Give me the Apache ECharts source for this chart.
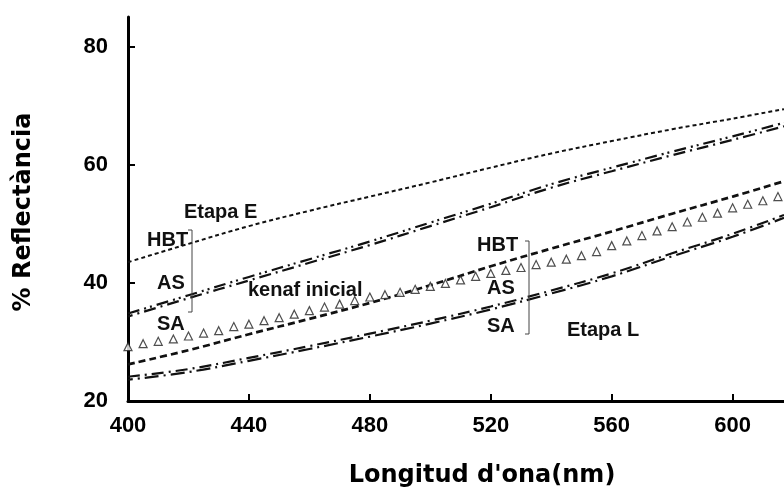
<!DOCTYPE html>
<html><head><meta charset="utf-8">
<script src="https://cdn.jsdelivr.net/npm/echarts@6/dist/echarts.min.js"></script>
<style>html,body{margin:0;padding:0;background:#fff}#c{width:784px;height:493px}</style>
</head><body><div id="c"></div>
<script>
// wavelengths (nm) for the smooth curves
const wavelengths = [400, 420, 440, 460, 480, 500, 520, 540, 560, 580, 600, 617];
const etapaE_HBT = [43.5, 46.6, 49.6, 52.2, 54.6, 57.0, 59.5, 61.9, 64.0, 66.0, 67.8, 69.4];
const etapaE_AS  = [34.8, 37.9, 41.0, 44.0, 47.0, 50.2, 53.4, 56.7, 59.5, 62.2, 64.8, 67.1];
const etapaE_SA  = [34.3, 37.4, 40.4, 43.4, 46.4, 49.6, 52.8, 56.1, 58.9, 61.6, 64.2, 66.5];
const etapaL_HBT = [26.2, 28.6, 31.3, 33.9, 36.6, 39.6, 42.8, 45.8, 48.7, 51.7, 54.6, 57.2];
const etapaL_AS  = [24.1, 25.4, 27.3, 29.3, 31.4, 33.6, 36.0, 38.7, 41.6, 45.0, 48.3, 51.5];
const etapaL_SA  = [23.6, 24.9, 26.8, 28.8, 30.9, 33.1, 35.5, 38.2, 41.1, 44.5, 47.8, 51.0];
// kenaf inicial (triangles, every 5 nm)
const kenafWl = [400,405,410,415,420,425,430,435,440,445,450,455,460,465,470,475,480,485,490,495,500,505,510,515,520,525,530,535,540,545,550,555,560,565,570,575,580,585,590,595,600,605,610,615];
const kenafInicial = [29.2,29.7,30.1,30.5,31.0,31.5,31.9,32.6,33.0,33.6,34.1,34.7,35.3,35.9,36.4,37.0,37.6,38.0,38.4,38.9,39.4,39.9,40.5,41.1,41.6,42.1,42.6,43.1,43.5,44.0,44.6,45.3,46.3,47.1,48.0,48.8,49.5,50.3,51.1,51.8,52.7,53.3,53.9,54.6];
const xTicks = [400, 440, 480, 520, 560, 600];
const yTicks = [20, 40, 60, 80];

const pairs = (xs, ys) => xs.map((x, i) => [x, ys[i]]);
const ink = '#111';
function curve(name, ys, dash, width, offset) {
  return {
    name, type: 'line', smooth: 0.4, symbol: 'none', z: 3,
    data: pairs(wavelengths, ys),
    lineStyle: { color: ink, width: width, type: dash, dashOffset: offset || 0, cap: 'butt' }
  };
}
const labelFont = 'bold 20px "Liberation Sans", Arial, sans-serif';
function note(text, x, y) {
  return { type: 'text', z: 10, style: { text, x, y, font: labelFont, fill: ink, textAlign: 'left', textVerticalAlign: 'middle', verticalAlign: 'middle' } };
}
function bracket(x, y1, y2) {
  return { type: 'polyline', z: 10, shape: { points: [[x - 4, y1], [x, y1], [x, y2], [x - 4, y2]] }, style: { stroke: '#444', lineWidth: 1, fill: null } };
}

const chart = echarts.init(document.getElementById('c'));
chart.setOption({
  backgroundColor: '#fff',
  animation: false,
  grid: { left: 128, right: 0, top: 17, bottom: 92, containLabel: false, outerBoundsMode: 'none' },
  xAxis: {
    type: 'value', min: 400, max: 617,
    axisLine: { onZero: false, lineStyle: { color: '#000', width: 3 } },
    axisTick: { inside: true, length: 7, lineStyle: { color: '#000', width: 2 }, customValues: xTicks },
    axisLabel: { customValues: xTicks, margin: 14, color: '#000', fontSize: 22, fontWeight: 'bold', fontFamily: '"Liberation Sans", Arial, sans-serif' },
    splitLine: { show: false }
  },
  yAxis: {
    type: 'value', min: 20, max: 85,
    axisLine: { show: true, onZero: false, lineStyle: { color: '#000', width: 3 } },
    axisTick: { show: true, inside: true, length: 7, lineStyle: { color: '#000', width: 2 }, customValues: yTicks },
    axisLabel: { customValues: yTicks, margin: 20, color: '#000', fontSize: 22, fontWeight: 'bold', fontFamily: '"Liberation Sans", Arial, sans-serif' },
    splitLine: { show: false }
  },
  series: [
    curve('Etapa E HBT', etapaE_HBT, [4, 3], 2),
    curve('Etapa E AS', etapaE_AS, [12, 5, 2, 4, 2, 5], 2.2, 0),
    curve('Etapa E SA', etapaE_SA, [12, 5, 2, 5], 2.2, 7),
    curve('Etapa L HBT', etapaL_HBT, [7, 4], 2.7),
    curve('Etapa L AS', etapaL_AS, [12, 5, 2, 5], 2.2, 0),
    curve('Etapa L SA', etapaL_SA, [14, 5, 2, 5], 2.2, 9),
    {
      name: 'kenaf inicial', type: 'scatter', z: 4,
      data: pairs(kenafWl, kenafInicial),
      symbol: 'triangle', symbolSize: 8,
      itemStyle: { color: '#fff', borderColor: '#222', borderWidth: 1.2 }
    }
  ],
  graphic: [
    { type: 'text', z: 10, rotation: Math.PI / 2, x: 24, y: 212, style: { text: '% Reflectància', font: 'bold 24px "DejaVu Sans", sans-serif', fill: '#000', textAlign: 'center', textVerticalAlign: 'middle', verticalAlign: 'middle' } },
    { type: 'text', z: 10, x: 482, y: 476, style: { text: "Longitud d'ona(nm)", font: 'bold 24px "DejaVu Sans", sans-serif', fill: '#000', textAlign: 'center', textVerticalAlign: 'middle', verticalAlign: 'middle' } },
    note('Etapa E', 184, 212),
    note('HBT', 147, 240),
    note('AS', 157, 283),
    note('SA', 157, 324),
    bracket(192, 230, 312),
    note('kenaf inicial', 248, 290),
    note('HBT', 477, 245),
    note('AS', 487, 288),
    note('SA', 487, 326),
    bracket(529, 241, 334),
    note('Etapa L', 567, 330)
  ]
});
</script></body></html>
